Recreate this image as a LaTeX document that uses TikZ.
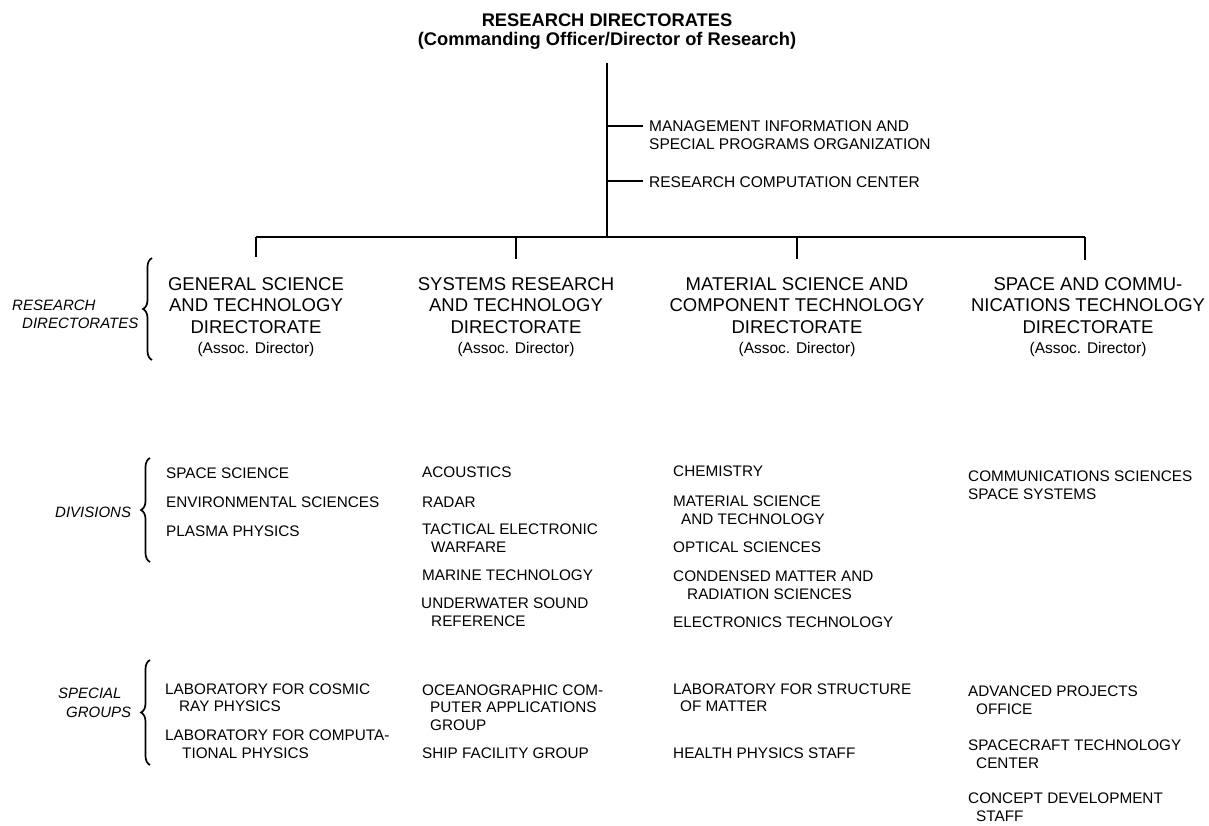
\documentclass[tikz,border=0pt]{standalone}
\usepackage{fontspec}
\setmainfont{Liberation Sans}
\usetikzlibrary{decorations.pathreplacing}
\begin{document}
\begin{tikzpicture}[x=1pt,y=-1pt,
  ttl/.style={font=\fontsize{18.3}{19}\selectfont\bfseries, align=center, anchor=base, inner sep=0pt},
  dirt/.style={font=\fontsize{18.5}{21.5}\selectfont, align=center, anchor=base, inner sep=0pt},
  assoc/.style={font=\fontsize{15.5}{18}\selectfont, anchor=base, inner sep=0pt},
  item/.style={font=\fontsize{15.3}{17.7}\selectfont, align=left, anchor=base west, inner sep=0pt},
  mg/.style={font=\fontsize{15.5}{18}\selectfont, align=left, anchor=base west, inner sep=0pt},
  lbl/.style={font=\fontsize{15}{18}\selectfont\itshape, anchor=base west, inner sep=0pt},
  trunk/.style={line width=2pt},
  barline/.style={line width=2.6pt},
  drop/.style={line width=1.6pt},
  brc/.style={decorate, decoration={brace, amplitude=9pt}, line width=1.7pt}]
\useasboundingbox (0,0) rectangle (1209,825);

% title (anchor = baseline of last line)
\node[ttl] (top) at (607,45.5) {RESEARCH DIRECTORATES\\(Commanding Officer/Director of Research)};

% trunk
\coordinate (trunkTop) at (607,63);
\coordinate (j1) at (607,126);
\coordinate (j2) at (607,181);
\coordinate (hub) at (607,237);
\draw[trunk] (trunkTop) -- (hub);

\node[mg] (mgmt) at (649,149.7) {MANAGEMENT INFORMATION AND\\SPECIAL PROGRAMS ORGANIZATION};
\node[mg] (rcc) at (649,187.3) {RESEARCH COMPUTATION CENTER};
\coordinate (e1) at (643,126);
\coordinate (e2) at (643,181);
\draw[trunk] (j1) -- (e1);
\draw[trunk] (j2) -- (e2);

% bar and drops
\coordinate (b1) at (256,237);
\coordinate (b2) at (516,237);
\coordinate (b3) at (797,237);
\coordinate (b4) at (1085,237);
\draw[barline] (b1) -- (b4);
\coordinate (d1) at (256,257);
\coordinate (d2) at (516,259);
\coordinate (d3) at (797,259);
\coordinate (d4) at (1085,260);
\draw[drop] (b1) -- (d1);
\draw[drop] (b2) -- (d2);
\draw[drop] (b3) -- (d3);
\draw[drop] (b4) -- (d4);

% directorates
\node[dirt] (dir1) at (256,333) {GENERAL SCIENCE\\AND TECHNOLOGY\\DIRECTORATE};
\node[dirt] (dir2) at (516,333) {SYSTEMS RESEARCH\\AND TECHNOLOGY\\DIRECTORATE};
\node[dirt] (dir3) at (797,333) {MATERIAL SCIENCE AND\\COMPONENT TECHNOLOGY\\DIRECTORATE};
\node[dirt] (dir4) at (1088,333) {SPACE AND COMMU-\\NICATIONS TECHNOLOGY\\DIRECTORATE};
\node[assoc] (as1) at (256,353) {(Assoc. Director)};
\node[assoc] (as2) at (516,353) {(Assoc. Director)};
\node[assoc] (as3) at (797,353) {(Assoc. Director)};
\node[assoc] (as4) at (1088,353) {(Assoc. Director)};

% side labels and braces
\node[lbl] (lrd1) at (12,310) {RESEARCH};
\node[lbl] (lrd2) at (22,328) {DIRECTORATES};
\node[lbl] (ldiv) at (55,517) {DIVISIONS};
\node[lbl] (lsg1) at (58,698) {SPECIAL};
\node[lbl] (lsg2) at (66,717) {GROUPS};
\draw[brc] (152,360) -- (152,258);
\draw[brc] (150,562) -- (150,458);
\draw[brc] (150,765) -- (150,660);

% divisions
\node[item] (s1) at (166,478) {SPACE SCIENCE};
\node[item] (s2) at (166,507.5) {ENVIRONMENTAL SCIENCES};
\node[item] (s3) at (166,536.7) {PLASMA PHYSICS};

\node[item] (r1) at (422,477.7) {ACOUSTICS};
\node[item] (r2) at (422,507.5) {RADAR};
\node[item] (r3) at (422,552.5) {TACTICAL ELECTRONIC\\\hspace*{9pt}WARFARE};
\node[item] (r4) at (422,580.5) {MARINE TECHNOLOGY};
\node[item] (r5) at (421,626.5) {UNDERWATER SOUND\\\hspace*{10pt}REFERENCE};

\node[item] (m1) at (673,476.7) {CHEMISTRY};
\node[item] (m2) at (673,524) {MATERIAL SCIENCE\\\hspace*{8pt}AND TECHNOLOGY};
\node[item] (m3) at (673,552.5) {OPTICAL SCIENCES};
\node[item] (m4) at (673,599) {CONDENSED MATTER AND\\\hspace*{14pt}RADIATION SCIENCES};
\node[item] (m5) at (673,627.5) {ELECTRONICS TECHNOLOGY};

\node[item] (c1) at (968,499.4) {COMMUNICATIONS SCIENCES\\SPACE SYSTEMS};

% special groups
\node[item] (g1) at (165,711.7) {LABORATORY FOR COSMIC\\\hspace*{14pt}RAY PHYSICS};
\node[item] (g2) at (165,758.4) {LABORATORY FOR COMPUTA-\\\hspace*{17pt}TIONAL PHYSICS};

\node[item] (h1) at (422,730.4) {OCEANOGRAPHIC COM-\\\hspace*{8pt}PUTER APPLICATIONS\\\hspace*{8pt}GROUP};
\node[item] (h2) at (422,758.5) {SHIP FACILITY GROUP};

\node[item] (k1) at (673,711.7) {LABORATORY FOR STRUCTURE\\\hspace*{7pt}OF MATTER};
\node[item] (k2) at (673,758.3) {HEALTH PHYSICS STAFF};

\node[item] (p1) at (968,714.4) {ADVANCED PROJECTS\\\hspace*{8pt}OFFICE};
\node[item] (p2) at (968,768.5) {SPACECRAFT TECHNOLOGY\\\hspace*{8pt}CENTER};
\node[item] (p3) at (968,821.5) {CONCEPT DEVELOPMENT\\\hspace*{8pt}STAFF};
\end{tikzpicture}
\end{document}
